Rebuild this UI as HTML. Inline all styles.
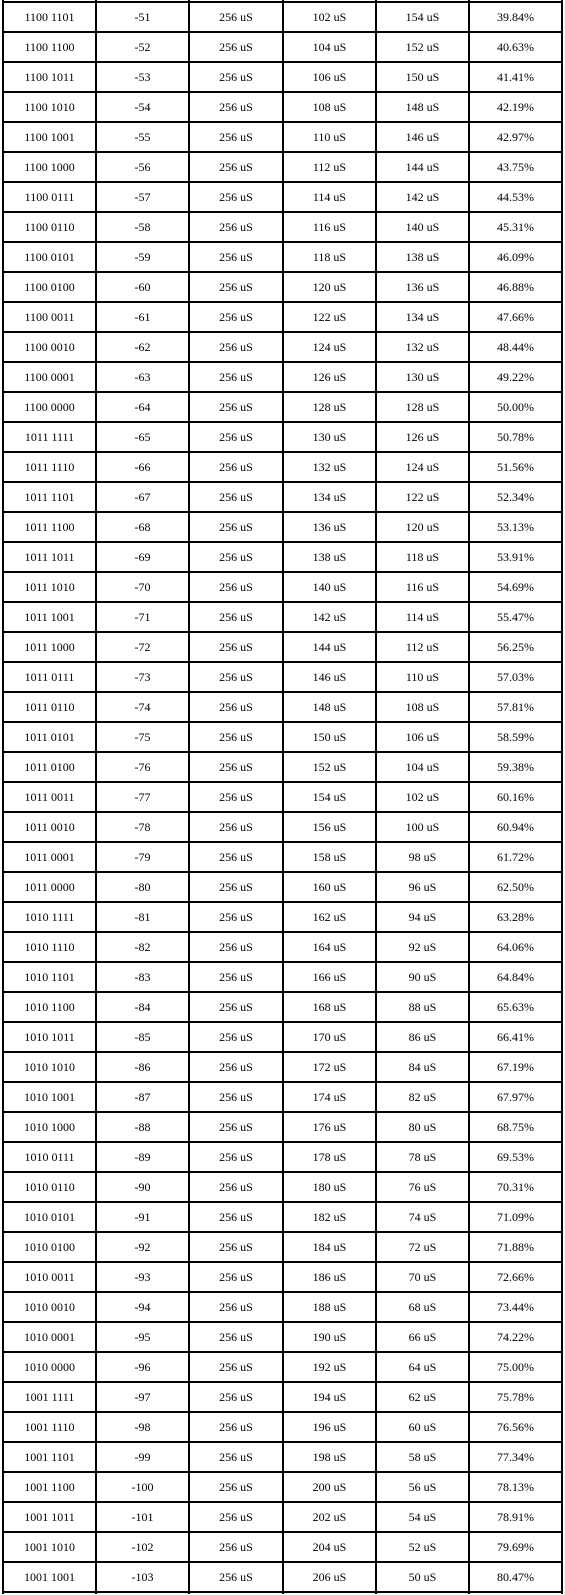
<!DOCTYPE html>
<html><head><meta charset="utf-8"><style>
html,body{margin:0;padding:0;background:#fff;}
#t{position:relative;width:565px;height:1595px;overflow:hidden;font-family:"Liberation Serif",serif;font-size:12px;color:#000;}
.h{position:absolute;left:2px;width:561px;height:2px;background:#000;}
.v{position:absolute;top:0;width:2px;height:1594px;background:#000;}
.c{position:absolute;width:93px;height:30px;line-height:30px;text-align:center;white-space:nowrap;}
</style></head><body>
<div id="t"></div>
<script>
const binaries=["1100 1101","1100 1100","1100 1011","1100 1010","1100 1001","1100 1000","1100 0111","1100 0110","1100 0101","1100 0100","1100 0011","1100 0010","1100 0001","1100 0000","1011 1111","1011 1110","1011 1101","1011 1100","1011 1011","1011 1010","1011 1001","1011 1000","1011 0111","1011 0110","1011 0101","1011 0100","1011 0011","1011 0010","1011 0001","1011 0000","1010 1111","1010 1110","1010 1101","1010 1100","1010 1011","1010 1010","1010 1001","1010 1000","1010 0111","1010 0110","1010 0101","1010 0100","1010 0011","1010 0010","1010 0001","1010 0000","1001 1111","1001 1110","1001 1101","1001 1100","1001 1011","1001 1010","1001 1001"];
const values=[-51,-52,-53,-54,-55,-56,-57,-58,-59,-60,-61,-62,-63,-64,-65,-66,-67,-68,-69,-70,-71,-72,-73,-74,-75,-76,-77,-78,-79,-80,-81,-82,-83,-84,-85,-86,-87,-88,-89,-90,-91,-92,-93,-94,-95,-96,-97,-98,-99,-100,-101,-102,-103];
const highs=[102,104,106,108,110,112,114,116,118,120,122,124,126,128,130,132,134,136,138,140,142,144,146,148,150,152,154,156,158,160,162,164,166,168,170,172,174,176,178,180,182,184,186,188,190,192,194,196,198,200,202,204,206];
const lows=[154,152,150,148,146,144,142,140,138,136,134,132,130,128,126,124,122,120,118,116,114,112,110,108,106,104,102,100,98,96,94,92,90,88,86,84,82,80,78,76,74,72,70,68,66,64,62,60,58,56,54,52,50];
const pcts=["39.84%","40.63%","41.41%","42.19%","42.97%","43.75%","44.53%","45.31%","46.09%","46.88%","47.66%","48.44%","49.22%","50.00%","50.78%","51.56%","52.34%","53.13%","53.91%","54.69%","55.47%","56.25%","57.03%","57.81%","58.59%","59.38%","60.16%","60.94%","61.72%","62.50%","63.28%","64.06%","64.84%","65.63%","66.41%","67.19%","67.97%","68.75%","69.53%","70.31%","71.09%","71.88%","72.66%","73.44%","74.22%","75.00%","75.78%","76.56%","77.34%","78.13%","78.91%","79.69%","80.47%"];
const t=document.getElementById('t');
const colC=[3,96,189,283,376,469,562];
for(let k=-1;k<binaries.length;k++){
  const h=document.createElement('div');h.className='h';h.style.top=(31+30*k)+'px';
  
  
  t.appendChild(h);
}
colC.forEach(c=>{
  const v=document.createElement('div');v.className='v';v.style.left=(c-1)+'px';
  
  
  t.appendChild(v);
});
const names=['binary-cell','value-cell','period-cell','high-time-cell','low-time-cell','duty-cycle-cell'];
binaries.forEach((b,i)=>{
  const vals=[b,String(values[i]),'256 uS',highs[i]+' uS',lows[i]+' uS',pcts[i]];
  vals.forEach((s,j)=>{
    const d=document.createElement('div');d.className='c';
    d.style.left=((colC[j]+colC[j+1])/2-46.5)+'px';
    d.style.top=(2+30*i)+'px';
    d.textContent=s;
    
    
    t.appendChild(d);
  });
});
</script>
</body></html>
